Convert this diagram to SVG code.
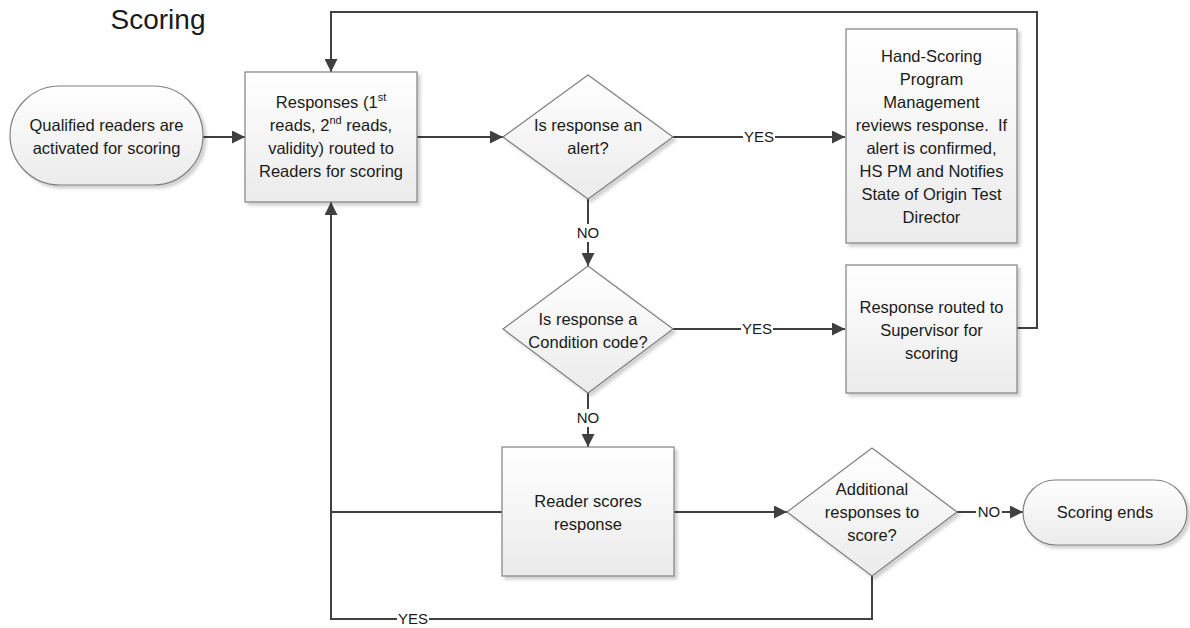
<svg xmlns="http://www.w3.org/2000/svg" width="1190" height="628" viewBox="0 0 1190 628">
<defs>
<linearGradient id="g" x1="0" y1="0" x2="0" y2="1"><stop offset="0" stop-color="#ffffff"/><stop offset="1" stop-color="#ebebeb"/></linearGradient>
<filter id="sh" x="-10%" y="-10%" width="130%" height="130%"><feDropShadow dx="3" dy="3" stdDeviation="1.5" flood-color="#000" flood-opacity="0.18"/></filter>
<marker id="ar" viewBox="0 0 10 10" refX="10" refY="5" markerWidth="15" markerHeight="13" markerUnits="userSpaceOnUse" orient="auto"><path d="M0,0 L10,5 L0,10 z" fill="#404040"/></marker>
<style>
.n{fill:url(#g);stroke:#808080;stroke-width:1.2;filter:url(#sh)}
.t{font-family:"Liberation Sans",Arial,sans-serif;font-size:16.5px;fill:#1a1a1a;text-anchor:middle}
.c{fill:none;stroke:#404040;stroke-width:2}
.l{font-family:"Liberation Sans",Arial,sans-serif;font-size:15px;fill:#1a1a1a;text-anchor:middle}
.bg{fill:#fff}
</style>
</defs>
<rect width="1190" height="628" fill="#fff"/>
<text x="158" y="29" style="font-family:'Liberation Sans',Arial,sans-serif;font-size:28px;fill:#1a1a1a;text-anchor:middle">Scoring</text>

<g id="connectors">
<path class="c" d="M203,137 H245" marker-end="url(#ar)"/>
<path class="c" d="M417,137 H503" marker-end="url(#ar)"/>
<path class="c" d="M673,137 H845" marker-end="url(#ar)"/>
<path class="c" d="M588,199 V266" marker-end="url(#ar)"/>
<path class="c" d="M673,329 H845" marker-end="url(#ar)"/>
<path class="c" d="M1017,328 H1037 V12 H331 V72" marker-end="url(#ar)"/>
<path class="c" d="M588,393 V447" marker-end="url(#ar)"/>
<path class="c" d="M674,512 H787" marker-end="url(#ar)"/>
<path class="c" d="M957,512 H1023" marker-end="url(#ar)"/>
<path class="c" d="M502,512 H331"/>
<path class="c" d="M872,576 V619 H331 V202" marker-end="url(#ar)"/>
<rect class="bg" x="743" y="128" width="32" height="18"/><text class="l" x="759" y="142">YES</text>
<rect class="bg" x="741" y="320" width="32" height="18"/><text class="l" x="757" y="334">YES</text>
<rect class="bg" x="575" y="224" width="26" height="18"/><text class="l" x="588" y="238">NO</text>
<rect class="bg" x="575" y="409" width="26" height="18"/><text class="l" x="588" y="423">NO</text>
<rect class="bg" x="976" y="503" width="26" height="18"/><text class="l" x="989" y="517">NO</text>
<rect class="bg" x="397" y="610" width="32" height="18"/><text class="l" x="413" y="624">YES</text>
</g>

<g id="start">
<rect class="n" x="10" y="86" width="193" height="99" rx="49.5"/>
<text class="t" x="106.5" y="131">Qualified readers are</text>
<text class="t" x="106.5" y="154">activated for scoring</text>
</g>

<g id="responses">
<rect class="n" x="245" y="72" width="172" height="130"/>
<text class="t" x="331" y="108">Responses (1<tspan font-size="11" dy="-7">st</tspan></text>
<text class="t" x="331" y="131">reads, 2<tspan font-size="11" dy="-7">nd</tspan><tspan dy="7"> reads,</tspan></text>
<text class="t" x="331" y="154">validity) routed to</text>
<text class="t" x="331" y="177">Readers for scoring</text>
</g>

<g id="alert">
<polygon class="n" points="588,75 673,137 588,199 503,137"/>
<text class="t" x="588" y="131">Is response an</text>
<text class="t" x="588" y="154">alert?</text>
</g>

<g id="handscoring">
<rect class="n" x="846" y="29" width="171" height="214"/>
<text class="t" x="931.5" y="62">Hand-Scoring</text>
<text class="t" x="931.5" y="85">Program</text>
<text class="t" x="931.5" y="108">Management</text>
<text class="t" x="931.5" y="131">reviews response.&#160; If</text>
<text class="t" x="931.5" y="154">alert is confirmed,</text>
<text class="t" x="931.5" y="177">HS PM and Notifies</text>
<text class="t" x="931.5" y="200">State of Origin Test</text>
<text class="t" x="931.5" y="223">Director</text>
</g>

<g id="condition">
<polygon class="n" points="588,266 673,329 588,393 503,329"/>
<text class="t" x="588" y="325">Is response a</text>
<text class="t" x="588" y="348">Condition code?</text>
</g>

<g id="supervisor">
<rect class="n" x="846" y="265" width="171" height="128"/>
<text class="t" x="931.5" y="313">Response routed to</text>
<text class="t" x="931.5" y="336">Supervisor for</text>
<text class="t" x="931.5" y="359">scoring</text>
</g>

<g id="reader">
<rect class="n" x="502" y="447" width="172" height="129"/>
<text class="t" x="588" y="507">Reader scores</text>
<text class="t" x="588" y="530">response</text>
</g>

<g id="additional">
<polygon class="n" points="872,448 957,512 872,576 787,512"/>
<text class="t" x="872" y="495">Additional</text>
<text class="t" x="872" y="518">responses to</text>
<text class="t" x="872" y="541">score?</text>
</g>

<g id="end">
<rect class="n" x="1023" y="480" width="164" height="65" rx="32.5"/>
<text class="t" x="1105" y="518">Scoring ends</text>
</g>
</svg>
